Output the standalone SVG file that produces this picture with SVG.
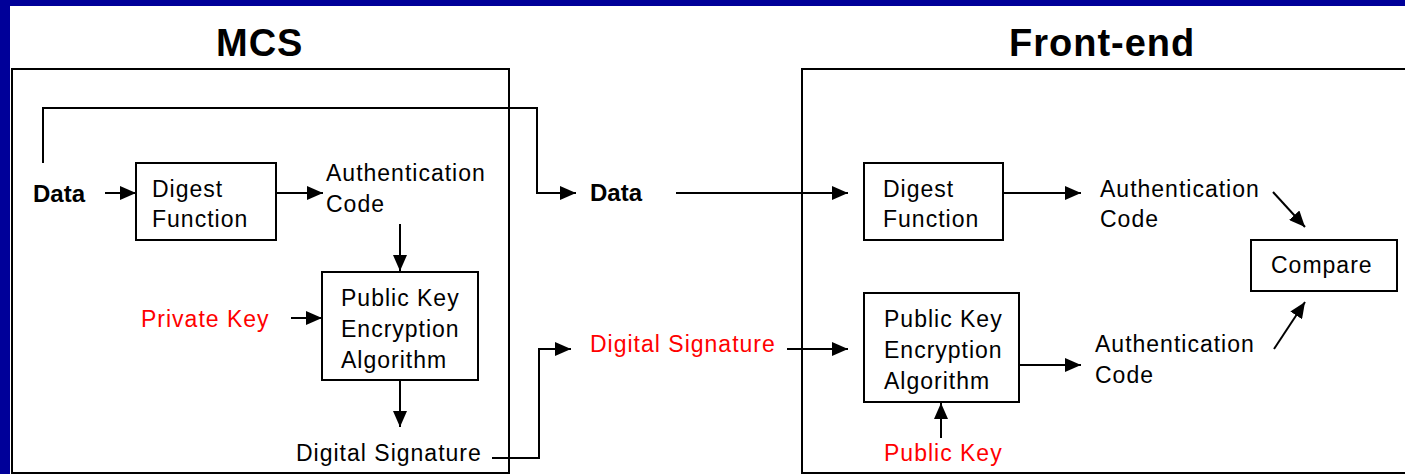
<svg xmlns="http://www.w3.org/2000/svg" width="1405" height="474" viewBox="0 0 1405 474">
<defs>
<marker id="ah" viewBox="0 0 16 14" refX="16" refY="7" markerWidth="16" markerHeight="14" markerUnits="userSpaceOnUse" orient="auto">
<path d="M0,0 L16,7 L0,14 z" fill="#000"/>
</marker>
<style>
.t{font-family:"Liberation Sans",Arial,sans-serif;font-size:23px;letter-spacing:1px;fill:#000}
.r{fill:#ff0000}
.b{font-family:"Liberation Sans",Arial,sans-serif;font-size:24px;font-weight:bold;fill:#000}
.h{font-family:"Liberation Sans",Arial,sans-serif;font-size:38px;font-weight:bold;letter-spacing:1px;fill:#000}
.box{fill:#fff;stroke:#000;stroke-width:2}
.frame{fill:none;stroke:#000;stroke-width:2}
.c{fill:none;stroke:#000;stroke-width:2}
.a{marker-end:url(#ah)}
</style>
</defs>
<rect x="0" y="0" width="1405" height="474" fill="#fff"/>
<rect x="0" y="0" width="1405" height="6" fill="#000099"/>
<rect x="0" y="0" width="10" height="474" fill="#000099"/>

<g id="mcs">
<rect class="frame" x="12" y="69" width="497" height="404"/>
<text class="h" x="216" y="56">MCS</text>
</g>
<g id="frontend">
<rect class="frame" x="802" y="69" width="700" height="404"/>
<text class="h" x="1009" y="56">Front-end</text>
</g>

<g id="data-left"><text class="b" x="33" y="202">Data</text></g>
<g id="digest-left">
<rect class="box" x="136" y="163" width="140" height="77"/>
<text class="t" x="152" y="197">Digest</text>
<text class="t" x="152" y="227">Function</text>
</g>
<g id="auth-left">
<text class="t" x="326" y="181">Authentication</text>
<text class="t" x="326" y="212">Code</text>
</g>
<g id="privkey"><text class="t r" x="141" y="327">Private Key</text></g>
<g id="pke-left">
<rect class="box" x="322" y="272" width="156" height="108"/>
<text class="t" x="341" y="306">Public Key</text>
<text class="t" x="341" y="337">Encryption</text>
<text class="t" x="341" y="368">Algorithm</text>
</g>
<g id="digsig-left"><text class="t" x="296" y="461">Digital Signature</text></g>

<g id="data-mid"><text class="b" x="590" y="201">Data</text></g>
<g id="digsig-mid"><text class="t r" x="590" y="352">Digital Signature</text></g>

<g id="digest-right">
<rect class="box" x="864" y="163" width="139" height="77"/>
<text class="t" x="883" y="197">Digest</text>
<text class="t" x="883" y="227">Function</text>
</g>
<g id="auth-right-top">
<text class="t" x="1100" y="197">Authentication</text>
<text class="t" x="1100" y="227">Code</text>
</g>
<g id="compare">
<rect class="box" x="1251" y="240" width="146" height="51"/>
<text class="t" x="1271" y="273">Compare</text>
</g>
<g id="pke-right">
<rect class="box" x="864" y="293" width="155" height="109"/>
<text class="t" x="884" y="327">Public Key</text>
<text class="t" x="884" y="358">Encryption</text>
<text class="t" x="884" y="389">Algorithm</text>
</g>
<g id="auth-right-bottom">
<text class="t" x="1095" y="352">Authentication</text>
<text class="t" x="1095" y="383">Code</text>
</g>
<g id="pubkey"><text class="t r" x="884" y="461">Public Key</text></g>

<g id="connectors">
<polyline class="c a" points="43,163 43,108 537,108 537,193 576,193"/>
<line class="c a" x1="105" y1="193" x2="136" y2="193"/>
<line class="c a" x1="276" y1="193" x2="323" y2="193"/>
<line class="c a" x1="400" y1="224" x2="400" y2="271"/>
<line class="c a" x1="291" y1="318" x2="322" y2="318"/>
<line class="c a" x1="400" y1="380" x2="400" y2="427"/>
<polyline class="c a" points="492,458 539,458 539,349 571,349"/>
<line class="c a" x1="676" y1="193" x2="848" y2="193"/>
<line class="c a" x1="1003" y1="193" x2="1081" y2="193"/>
<line class="c a" x1="1273" y1="192" x2="1305" y2="227"/>
<line class="c a" x1="787" y1="349" x2="848" y2="349"/>
<line class="c a" x1="1019" y1="365" x2="1081" y2="365"/>
<line class="c a" x1="941" y1="438" x2="941" y2="403"/>
<line class="c a" x1="1274" y1="349" x2="1305" y2="302"/>
</g>
</svg>
